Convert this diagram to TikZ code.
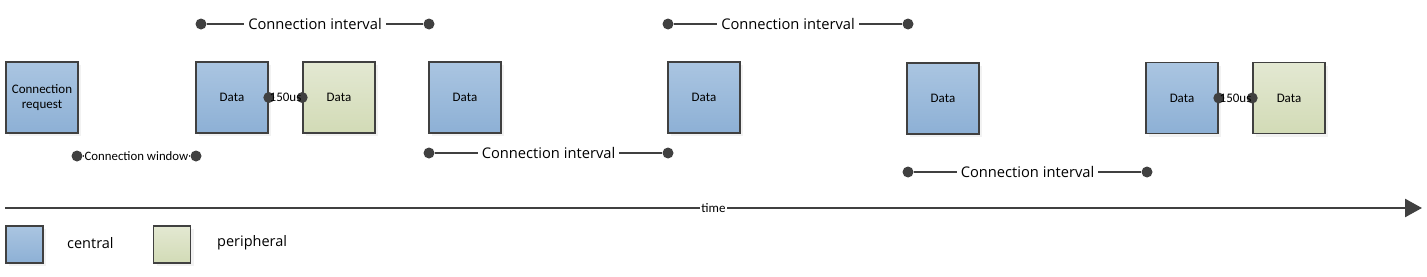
\documentclass[tikz,border=0pt]{standalone}
\usepackage{fontspec}
\setmainfont{Open Sans}
\newfontfamily\boxfont{Carlito}
\usetikzlibrary{arrows.meta,positioning,shadows}
\definecolor{cenTop}{HTML}{AAC5E1}
\definecolor{cenBot}{HTML}{8DB0D5}
\definecolor{perTop}{HTML}{E3E8D2}
\definecolor{perBot}{HTML}{D2DBB6}
\definecolor{edge}{HTML}{404040}

\tikzset{
  slot/.style={draw=edge, line width=1.6pt, minimum width=72pt, minimum height=71pt,
    inner sep=0pt, align=center, font=\boxfont\fontsize{13}{15}\selectfont,
    drop shadow={shadow xshift=3pt, shadow yshift=-3pt, fill=black!10}},
  central/.style={slot, top color=cenTop, bottom color=cenBot},
  periph/.style={slot, top color=perTop, bottom color=perBot},
  key/.style={minimum width=37pt, minimum height=37pt},
  tick/.style={circle, fill=edge, inner sep=0pt, minimum size=11pt},
  span/.style={draw=edge, line width=1.6pt},
  spanlabel/.style={fill=white, inner sep=4pt, font=\fontsize{14.7}{17}\selectfont},
  smalllabel/.style={fill=white, inner sep=1pt, font=\boxfont\fontsize{12.8}{15}\selectfont}
}

\begin{document}
\begin{tikzpicture}[x=1pt, y=-1pt]
  \useasboundingbox (0,0) rectangle (1427,276);

  % air packets
  \node[central] (req) at (42,97.5) {Connection\\request};
  \node[central] (d1) at (232,97.5) {Data};
  \node[periph]  (p1) at (339,97.5) {Data};
  \node[central] (d2) at (465,97.5) {Data};
  \node[central] (d3) at (704,97.5) {Data};
  \node[central] (d4) at (943,98.5) {Data};
  \node[central] (d5) at (1182,98) {Data};
  \node[periph]  (p2) at (1289,98) {Data};

  % connection intervals
  \node[tick] (ia) at (201,24) {};
  \node[tick] (ib) at (429,24) {};
  \draw[span] (ia) -- node[spanlabel] {Connection interval} (ib);
  \node[tick] (ic) at (668,24) {};
  \node[tick] (id) at (908,24) {};
  \draw[span] (ic) -- node[spanlabel] {Connection interval} (id);
  \node[tick] (ie) at (429,153) {};
  \node[tick] (if) at (668,153) {};
  \draw[span] (ie) -- node[spanlabel] {Connection interval} (if);
  \node[tick] (ig) at (908,172) {};
  \node[tick] (ih) at (1147,172) {};
  \draw[span] (ig) -- node[spanlabel] {Connection interval} (ih);

  % connection window
  \node[tick] (wa) at (77,156) {};
  \node[tick] (wb) at (196,156) {};
  \draw[span] (wa) -- node[smalllabel] {Connection window} (wb);

  % inter frame space
  \foreach \c/\p in {d1/p1,d5/p2} {
    \node[tick] (\c e) at (\c.east) {};
    \node[tick] (\p w) at (\p.west) {};
    \path (\c e) -- node[smalllabel, fill=none, font=\boxfont\fontsize{13}{15}\selectfont] {150us} (\p w);
  }

  % time axis
  \coordinate (t0) at (5,208);
  \coordinate (t1) at (1422,208);
  \draw[draw=edge, line width=2.6pt, -{Triangle[length=17pt,width=18pt]}] (t0) -- node[smalllabel, font=\boxfont\fontsize{13}{15}\selectfont] {time} (t1);

  % legend
  \node[central, key] (kc) at (24.5,244.5) {};
  \node[periph, key]  (kp) at (172,244.5) {};
  \node[anchor=west, inner sep=0pt, font=\fontsize{14.5}{17}\selectfont] (lc) at (67,243) {central};
  \node[anchor=west, inner sep=0pt, font=\fontsize{14.5}{17}\selectfont] (lp) at (217,243) {peripheral};
\end{tikzpicture}
\end{document}
